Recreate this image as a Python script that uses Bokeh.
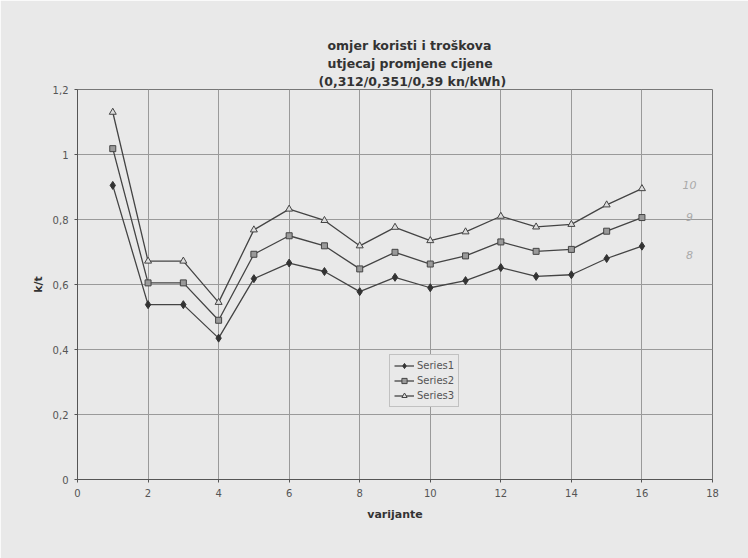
from bokeh.plotting import figure
from bokeh.models import Label, Legend, LegendItem, FixedTicker, Range1d, Title
from bokeh.embed import file_html
from bokeh.resources import INLINE

x_vals = list(range(1, 17))
series1 = [0.905, 0.538, 0.538, 0.435, 0.618, 0.666, 0.640, 0.578, 0.622, 0.590, 0.612, 0.652, 0.625, 0.630, 0.680, 0.718]
series2 = [1.018, 0.605, 0.605, 0.490, 0.693, 0.750, 0.719, 0.648, 0.699, 0.663, 0.688, 0.731, 0.702, 0.708, 0.764, 0.806]
series3 = [1.130, 0.672, 0.672, 0.545, 0.768, 0.832, 0.797, 0.719, 0.776, 0.735, 0.762, 0.810, 0.777, 0.785, 0.845, 0.895]
series_names = ["Series1", "Series2", "Series3"]
x_ticks = [0, 2, 4, 6, 8, 10, 12, 14, 16, 18]
y_ticks = [0, 0.2, 0.4, 0.6, 0.8, 1.0, 1.2]
y_tick_labels = ["0", "0,2", "0,4", "0,6", "0,8", "1", "1,2"]
title_lines = ["omjer koristi i troškova", "utjecaj promjene cijene", "(0,312/0,351/0,39 kn/kWh)"]
title_left_px = [250, 250, 241]   # left edge of each title line, measured from the plot frame
notes = ["10", "9", "8"]
note_y = [0.905, 0.808, 0.69]

BG = "#e9e9e9"
FONT = "DejaVu Sans"

p = figure(width=748, height=558, output_backend="svg", toolbar_location=None,
           x_range=Range1d(0, 18), y_range=Range1d(0, 1.2),
           min_border_left=77, min_border_right=36, min_border_top=89, min_border_bottom=79)
p.background_fill_color = BG
p.border_fill_color = BG
p.outline_line_color = "#777777"

p.xaxis.ticker = FixedTicker(ticks=x_ticks)
p.yaxis.ticker = FixedTicker(ticks=y_ticks)
p.yaxis.major_label_overrides = {t: l for t, l in zip(y_ticks, y_tick_labels)}
p.yaxis.major_label_overrides.update({1: "1", 0: "0"})
for ax in (p.xaxis[0], p.yaxis[0]):
    ax.axis_line_color = "#555555"
    ax.major_tick_line_color = "#555555"
    ax.major_tick_out = 3
    ax.major_tick_in = 0
    ax.minor_tick_line_color = None
    ax.major_label_text_font = FONT
    ax.major_label_text_font_size = "10px"
    ax.major_label_text_color = "#555555"
    ax.axis_label_text_font = FONT
    ax.axis_label_text_font_size = "11px"
    ax.axis_label_text_font_style = "bold"
    ax.axis_label_text_color = "#333333"
p.xaxis.axis_label = "varijante"
p.yaxis.axis_label = "k/t"
p.xaxis.major_label_standoff = 6
p.xaxis.axis_label_standoff = 8
p.yaxis.major_label_standoff = 6

p.xgrid.ticker = FixedTicker(ticks=x_ticks)
p.ygrid.ticker = FixedTicker(ticks=y_ticks)
p.xgrid.grid_line_color = "#9a9a9a"
p.ygrid.grid_line_color = "#9a9a9a"

LINE = "#444444"
r1 = p.line(x_vals, series1, line_color=LINE, line_width=1.3)
m1 = p.scatter(x_vals, series1, marker="diamond", size=8, fill_color="#333333", line_color="#333333")
r2 = p.line(x_vals, series2, line_color=LINE, line_width=1.3)
m2 = p.scatter(x_vals, series2, marker="square", size=6, fill_color="#9a9a9a", line_color="#444444")
r3 = p.line(x_vals, series3, line_color=LINE, line_width=1.3)
m3 = p.scatter(x_vals, series3, marker="triangle", size=7, fill_color="#dddddd", line_color="#444444")

legend = Legend(items=[LegendItem(label=series_names[0], renderers=[r1, m1]),
                       LegendItem(label=series_names[1], renderers=[r2, m2]),
                       LegendItem(label=series_names[2], renderers=[r3, m3])],
                location=(312, 72))
legend.background_fill_color = BG
legend.background_fill_alpha = 1
legend.border_line_color = "#999999"
legend.label_text_font = FONT
legend.label_text_font_size = "10px"
legend.label_text_color = "#555555"
legend.glyph_width = 20
legend.glyph_height = 13
legend.label_height = 13
legend.spacing = 2
legend.padding = 4
legend.margin = 0
legend.label_standoff = 3
p.add_layout(legend, "center")

# titles: first added sits closest to the plot, so add bottom line first
for i, (t, off) in enumerate(zip(reversed(title_lines), reversed(title_left_px))):
    p.add_layout(Title(text=t, align="left", offset=off, standoff=(1 if i == 0 else 1),
                       text_font=FONT, text_font_size="12.5px", text_font_style="bold",
                       text_color="#333333"), "above")

for t, yv in zip(notes, note_y):
    p.add_layout(Label(x=17.35, y=yv, text=t, text_align="center", text_baseline="middle",
                       text_font=FONT, text_font_size="11px", text_font_style="italic", text_color="#aaaaaa"))

open("out.html", "w").write(file_html(p, INLINE))
